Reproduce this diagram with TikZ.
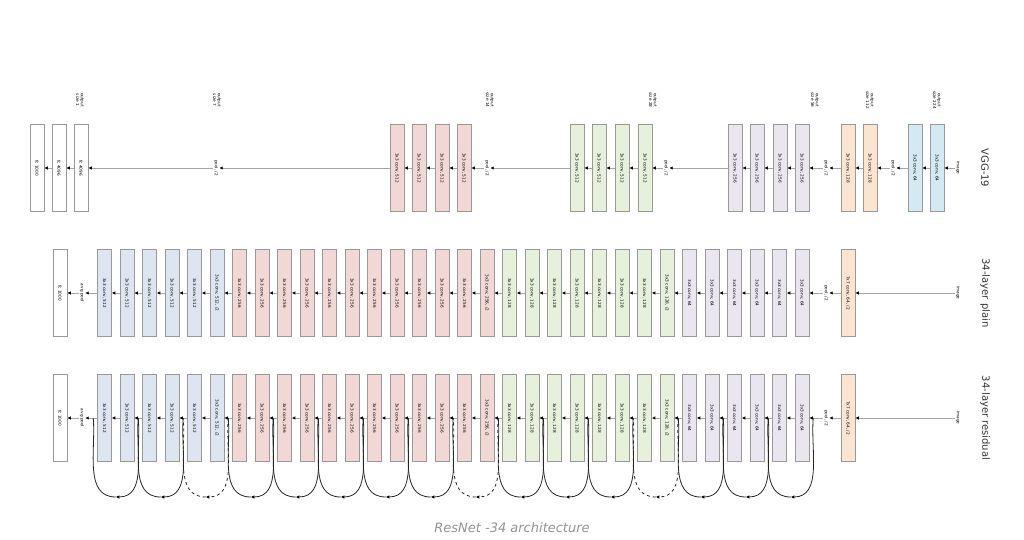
\documentclass[tikz,border=0pt]{standalone}
\usepackage{fontspec}
\setmainfont{DejaVu Sans}
\usetikzlibrary{arrows.meta}

\definecolor{cpur}{HTML}{E9E6F0}
\definecolor{cgrn}{HTML}{E6F0DA}
\definecolor{cred}{HTML}{F2D8D5}
\definecolor{cblu}{HTML}{DDE6F0}
\definecolor{corg}{HTML}{FBE4D0}
\definecolor{ccya}{HTML}{D3EAF2}

\begin{document}
\begin{tikzpicture}[
  x=1pt, y=-1pt,
  every node/.style={font=\fontsize{4.2}{4.8}\selectfont, align=center},
  box/.style={rectangle, draw=gray!80, line width=0.6pt, minimum width=87pt, minimum height=14pt, inner sep=0pt, rotate=-90, anchor=center},
  lbl/.style={rotate=-90, inner sep=1pt},
  rowname/.style={rotate=-90, font=\fontsize{10}{11}\selectfont, text=black!80},
  arr/.style={draw=gray!70, line width=0.8pt, -{Latex[length=3.5pt, width=3.5pt, black]}},
  sc/.style={draw=black!85, line width=0.8pt},
  sctip/.style={sc, -{Latex[length=3.5pt, width=3.5pt, black]}},
  >={Latex[length=3.5pt]}
]
\useasboundingbox (0,0) rectangle (1024,540);

% VGG-19
\node[rowname] (vggname) at (985,168) {VGG-19};
\node[lbl] (vimg) at (958,168) {image};
\node[box, fill=ccya] (v1) at (937,168) {3x3 conv, 64};
\node[box, fill=ccya] (v2) at (915,168) {3x3 conv, 64};
\node[lbl] (vp1) at (893,168) {pool, /2};
\node[box, fill=corg] (v3) at (870,168) {3x3 conv, 128};
\node[box, fill=corg] (v4) at (848,168) {3x3 conv, 128};
\node[lbl] (vp2) at (826,168) {pool, /2};
\node[box, fill=cpur] (v5) at (802,168) {3x3 conv, 256};
\node[box, fill=cpur] (v6) at (780,168) {3x3 conv, 256};
\node[box, fill=cpur] (v7) at (757,168) {3x3 conv, 256};
\node[box, fill=cpur] (v8) at (735,168) {3x3 conv, 256};
\node[lbl] (vp3) at (666,168) {pool, /2};
\node[box, fill=cgrn] (v9) at (645,168) {3x3 conv, 512};
\node[box, fill=cgrn] (v10) at (622,168) {3x3 conv, 512};
\node[box, fill=cgrn] (v11) at (599,168) {3x3 conv, 512};
\node[box, fill=cgrn] (v12) at (577,168) {3x3 conv, 512};
\node[lbl] (vp4) at (487,168) {pool, /2};
\node[box, fill=cred] (v13) at (464,168) {3x3 conv, 512};
\node[box, fill=cred] (v14) at (442,168) {3x3 conv, 512};
\node[box, fill=cred] (v15) at (419,168) {3x3 conv, 512};
\node[box, fill=cred] (v16) at (397,168) {3x3 conv, 512};
\node[lbl] (vp5) at (216,168) {pool, /2};
\node[box, fill=white] (v17) at (81,168) {fc 4096};
\node[box, fill=white] (v18) at (59,168) {fc 4096};
\node[box, fill=white] (v19) at (37,168) {fc 1000};
\foreach \a/\b in {vimg/v1, v1/v2, v2/vp1, vp1/v3, v3/v4, v4/vp2, vp2/v5, v5/v6, v6/v7, v7/v8, v8/vp3,
                   vp3/v9, v9/v10, v10/v11, v11/v12, v12/vp4, vp4/v13, v13/v14, v14/v15, v15/v16,
                   v16/vp5, vp5/v17, v17/v18, v18/v19}
  \draw[arr] (\a) -- (\b);

% output sizes
\foreach \x/\s in {937/224, 870/112, 815/56, 653/28, 490/14, 217/7, 80/1}
  \node[lbl] (out\s) at (\x,100) {output\\size \s};

% 34-layer plain and residual
\node[rowname] (plainname) at (985,293) {34-layer plain};
\node[rowname] (resname) at (985,418) {34-layer residual};
\foreach \r/\y in {p/293, r/418} {
  \node[lbl] (\r img) at (958,\y) {image};
  \node[box, fill=corg] (\r c0) at (848,\y) {7x7 conv, 64, /2};
  \node[lbl] (\r pool) at (826,\y) {pool, /2};
  \foreach \ch/\cl/\n/\s in {64/cpur/6/1, 128/cgrn/8/7, 256/cred/12/15, 512/cblu/6/27} {
    \foreach \i in {1,...,\n} {
      \pgfmathtruncatemacro\k{\s+\i-1}
      \pgfmathsetmacro\xx{802-22.5*(\k-1)}
      \node[box, fill=\cl] (\r c\k) at (\xx,\y)
        {3x3 conv, \ch\ifnum\i=1 \ifnum\ch>64 , /2\fi\fi};
    }
  }
  \node[lbl] (\r avg) at (82,\y) {avg pool};
  \node[box, fill=white] (\r fc) at (60,\y) {fc 1000};
  \draw[arr] (\r img) -- (\r c0);
  \draw[arr] (\r c0) -- (\r pool);
  \draw[arr] (\r pool) -- (\r c1);
  \foreach \k [evaluate=\k as \kk using int(\k+1)] in {1,...,31}
    \draw[arr] (\r c\k) -- (\r c\kk);
  \draw[arr] (\r c32) -- (\r avg);
  \draw[arr] (\r avg) -- (\r fc);
}

% shortcuts
\foreach \j in {0,...,15} {
  \pgfmathsetmacro\xa{802-22.5*(2*\j)+11.25}
  \pgfmathsetmacro\xb{\xa-45}
  \coordinate (sa\j) at (\xa,418);
  \coordinate (sm\j) at (\xa-22.5,497);
  \coordinate (sb\j) at (\xb,418);
  \ifnum\j=3 \def\sty{dashed}\else\ifnum\j=7 \def\sty{dashed}\else\ifnum\j=13 \def\sty{dashed}\else\def\sty{solid}\fi\fi\fi
  \draw[sctip, \sty] (sa\j) to[out=-95, in=0] (sm\j);
  \draw[sc, \sty] (sm\j) to[out=180, in=-85] (sb\j);
}

\node[font=\fontsize{13}{15}\selectfont\itshape, text=gray!85] (title) at (512,528) {ResNet -34 architecture};
\end{tikzpicture}
\end{document}
